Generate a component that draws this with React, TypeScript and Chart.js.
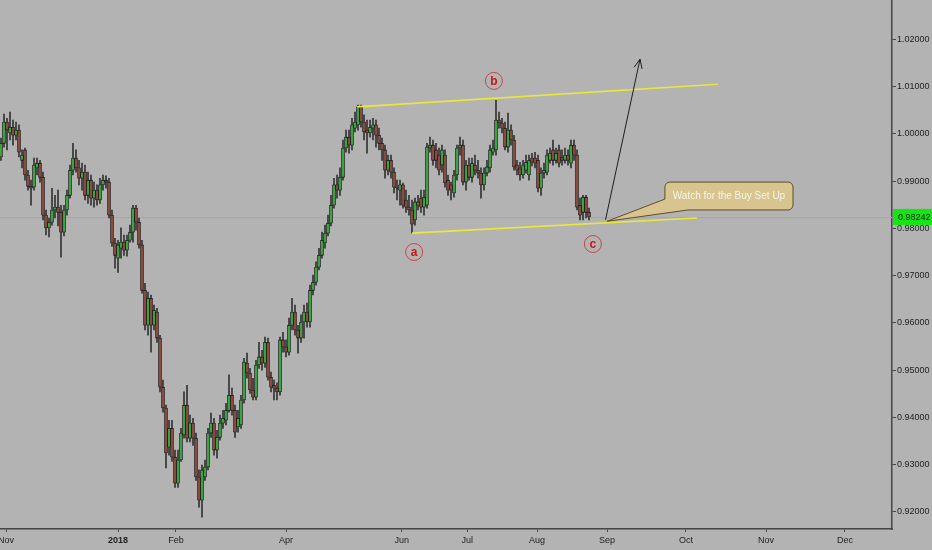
import React, { useEffect, useRef } from 'react';
import { Chart, registerables } from 'chart.js';

Chart.register(...registerables);

// ---- OHLC data (daily bars, EUR/CHF-like) ----
const opens = [
  0.9951, 0.9980, 1.0025, 1.0002, 1.0014, 0.9997, 1.0008, 0.9944, 0.9966, 0.9913,
  0.9889, 0.9887, 0.9928, 0.9938, 0.9908, 0.9828, 0.9801, 0.9813, 0.9839, 0.9845,
  0.9834, 0.9792, 0.9839, 0.9870, 0.9923, 0.9949, 0.9928, 0.9906, 0.9919, 0.9870,
  0.9902, 0.9864, 0.9881, 0.9860, 0.9892, 0.9902, 0.9898, 0.9828, 0.9769, 0.9737,
  0.9758, 0.9771, 0.9754, 0.9775, 0.9792, 0.9843, 0.9813, 0.9765, 0.9669, 0.9595,
  0.9652, 0.9595, 0.9623, 0.9568, 0.9464, 0.9420, 0.9337, 0.9377, 0.9316, 0.9261,
  0.9310, 0.9363, 0.9426, 0.9356, 0.9388, 0.9356, 0.9274, 0.9225, 0.9274, 0.9295,
  0.9367, 0.9388, 0.9331, 0.9358, 0.9388, 0.9394, 0.9415, 0.9447, 0.9415, 0.9380,
  0.9384, 0.9437, 0.9515, 0.9494, 0.9458, 0.9443, 0.9511, 0.9528, 0.9515, 0.9559,
  0.9485, 0.9468, 0.9462, 0.9454, 0.9564, 0.9549, 0.9538, 0.9595, 0.9623, 0.9585,
  0.9568, 0.9602, 0.9623, 0.9602, 0.9669, 0.9686, 0.9718, 0.9743, 0.9769, 0.9790,
  0.9811, 0.9849, 0.9892, 0.9881, 0.9908, 0.9970, 0.9993, 0.9976, 1.0012, 1.0019,
  1.0057, 1.0025, 1.0008, 1.0002, 1.0012, 1.0019, 0.9997, 0.9980, 0.9966, 0.9923,
  0.9944, 0.9919, 0.9887, 0.9881, 0.9892, 0.9860, 0.9845, 0.9839, 0.9818, 0.9849,
  0.9864, 0.9845, 0.9849, 0.9970, 0.9976, 0.9966, 0.9955, 0.9934, 0.9955, 0.9902,
  0.9892, 0.9875, 0.9913, 0.9970, 0.9976, 0.9898, 0.9934, 0.9908, 0.9934, 0.9923,
  0.9917, 0.9892, 0.9917, 0.9928, 0.9961, 0.9966, 1.0029, 1.0023, 1.0012, 0.9972,
  1.0008, 0.9987, 0.9934, 0.9928, 0.9913, 0.9923, 0.9913, 0.9949, 0.9949, 0.9944,
  0.9885, 0.9917, 0.9919, 0.9944, 0.9966, 0.9944, 0.9966, 0.9951, 0.9944, 0.9955,
  0.9938, 0.9976, 0.9955, 0.9849, 0.9834, 0.9866, 0.9834,
];
const highs = [
  0.9991, 1.0042, 1.0033, 1.0046, 1.0029, 1.0025, 1.0019, 0.9966, 0.9970, 0.9923,
  0.9902, 0.9949, 0.9949, 0.9944, 0.9919, 0.9839, 0.9822, 0.9885, 0.9870, 0.9881,
  0.9849, 0.9849, 0.9881, 0.9934, 0.9980, 0.9966, 0.9944, 0.9938, 0.9934, 0.9919,
  0.9913, 0.9898, 0.9892, 0.9906, 0.9913, 0.9911, 0.9906, 0.9839, 0.9779, 0.9775,
  0.9801, 0.9786, 0.9786, 0.9807, 0.9849, 0.9849, 0.9822, 0.9775, 0.9684, 0.9665,
  0.9659, 0.9638, 0.9631, 0.9574, 0.9479, 0.9426, 0.9394, 0.9394, 0.9331, 0.9331,
  0.9377, 0.9454, 0.9468, 0.9405, 0.9398, 0.9367, 0.9289, 0.9299, 0.9310, 0.9377,
  0.9409, 0.9398, 0.9373, 0.9405, 0.9415, 0.9430, 0.9490, 0.9462, 0.9426, 0.9415,
  0.9447, 0.9525, 0.9536, 0.9504, 0.9483, 0.9521, 0.9559, 0.9542, 0.9570, 0.9568,
  0.9496, 0.9479, 0.9473, 0.9570, 0.9580, 0.9564, 0.9610, 0.9652, 0.9638, 0.9595,
  0.9617, 0.9638, 0.9642, 0.9680, 0.9701, 0.9729, 0.9758, 0.9792, 0.9807, 0.9828,
  0.9870, 0.9906, 0.9913, 0.9928, 0.9987, 1.0008, 1.0008, 1.0033, 1.0046, 1.0061,
  1.0061, 1.0040, 1.0029, 1.0029, 1.0033, 1.0029, 1.0012, 0.9991, 0.9976, 0.9955,
  0.9955, 0.9928, 0.9902, 0.9902, 0.9896, 0.9881, 0.9870, 0.9860, 0.9864, 0.9870,
  0.9881, 0.9881, 0.9980, 0.9993, 0.9987, 0.9980, 0.9970, 0.9976, 0.9966, 0.9913,
  0.9898, 0.9923, 0.9976, 0.9993, 0.9987, 0.9944, 0.9949, 0.9949, 0.9955, 0.9944,
  0.9928, 0.9928, 0.9944, 0.9976, 0.9987, 1.0071, 1.0046, 1.0033, 1.0025, 1.0044,
  1.0019, 0.9997, 0.9944, 0.9940, 0.9944, 0.9955, 0.9955, 0.9959, 0.9961, 0.9955,
  0.9928, 0.9938, 0.9966, 0.9970, 0.9987, 0.9970, 0.9976, 0.9966, 0.9970, 0.9966,
  0.9987, 0.9987, 0.9966, 0.9864, 0.9870, 0.9870, 0.9843,
];
const lows = [
  0.9944, 0.9972, 0.9966, 0.9987, 0.9976, 0.9987, 0.9951, 0.9928, 0.9902, 0.9881,
  0.9849, 0.9881, 0.9913, 0.9898, 0.9818, 0.9786, 0.9782, 0.9807, 0.9822, 0.9805,
  0.9739, 0.9784, 0.9828, 0.9864, 0.9913, 0.9919, 0.9892, 0.9881, 0.9860, 0.9853,
  0.9849, 0.9845, 0.9849, 0.9853, 0.9881, 0.9885, 0.9822, 0.9762, 0.9716, 0.9707,
  0.9737, 0.9743, 0.9741, 0.9771, 0.9771, 0.9796, 0.9758, 0.9663, 0.9585, 0.9574,
  0.9538, 0.9585, 0.9559, 0.9454, 0.9411, 0.9293, 0.9320, 0.9307, 0.9252, 0.9252,
  0.9307, 0.9356, 0.9348, 0.9348, 0.9341, 0.9267, 0.9210, 0.9189, 0.9267, 0.9289,
  0.9358, 0.9320, 0.9314, 0.9352, 0.9377, 0.9384, 0.9411, 0.9405, 0.9358, 0.9369,
  0.9377, 0.9430, 0.9483, 0.9451, 0.9437, 0.9437, 0.9504, 0.9500, 0.9506, 0.9479,
  0.9454, 0.9437, 0.9437, 0.9447, 0.9538, 0.9528, 0.9532, 0.9585, 0.9574, 0.9536,
  0.9559, 0.9568, 0.9591, 0.9591, 0.9659, 0.9680, 0.9712, 0.9737, 0.9758, 0.9784,
  0.9805, 0.9843, 0.9864, 0.9870, 0.9902, 0.9961, 0.9959, 0.9966, 1.0004, 1.0008,
  1.0014, 0.9987, 0.9959, 0.9993, 0.9987, 0.9972, 0.9966, 0.9944, 0.9906, 0.9913,
  0.9906, 0.9875, 0.9860, 0.9849, 0.9843, 0.9834, 0.9828, 0.9790, 0.9807, 0.9839,
  0.9834, 0.9828, 0.9843, 0.9961, 0.9934, 0.9928, 0.9913, 0.9919, 0.9887, 0.9870,
  0.9860, 0.9866, 0.9902, 0.9955, 0.9892, 0.9881, 0.9902, 0.9898, 0.9913, 0.9906,
  0.9864, 0.9881, 0.9911, 0.9919, 0.9955, 0.9955, 1.0012, 1.0002, 0.9966, 0.9961,
  0.9976, 0.9923, 0.9913, 0.9902, 0.9906, 0.9917, 0.9902, 0.9932, 0.9928, 0.9877,
  0.9870, 0.9906, 0.9913, 0.9938, 0.9934, 0.9938, 0.9930, 0.9934, 0.9938, 0.9934,
  0.9928, 0.9944, 0.9839, 0.9818, 0.9818, 0.9822, 0.9818,
];
const closes = [
  0.9980, 1.0025, 1.0008, 1.0014, 0.9997, 1.0008, 0.9961, 0.9955, 0.9913, 0.9889,
  0.9885, 0.9934, 0.9938, 0.9908, 0.9828, 0.9801, 0.9813, 0.9839, 0.9845, 0.9834,
  0.9792, 0.9839, 0.9870, 0.9923, 0.9949, 0.9928, 0.9906, 0.9919, 0.9870, 0.9902,
  0.9864, 0.9881, 0.9860, 0.9892, 0.9902, 0.9898, 0.9828, 0.9769, 0.9743, 0.9765,
  0.9771, 0.9754, 0.9775, 0.9792, 0.9843, 0.9813, 0.9765, 0.9669, 0.9595, 0.9652,
  0.9595, 0.9627, 0.9568, 0.9464, 0.9420, 0.9325, 0.9377, 0.9316, 0.9261, 0.9310,
  0.9367, 0.9426, 0.9356, 0.9388, 0.9356, 0.9274, 0.9225, 0.9289, 0.9295, 0.9367,
  0.9388, 0.9331, 0.9358, 0.9388, 0.9398, 0.9415, 0.9447, 0.9415, 0.9369, 0.9398,
  0.9437, 0.9517, 0.9494, 0.9458, 0.9443, 0.9511, 0.9528, 0.9515, 0.9559, 0.9485,
  0.9464, 0.9462, 0.9454, 0.9564, 0.9549, 0.9538, 0.9595, 0.9623, 0.9585, 0.9568,
  0.9602, 0.9623, 0.9602, 0.9669, 0.9686, 0.9718, 0.9743, 0.9775, 0.9790, 0.9811,
  0.9849, 0.9892, 0.9881, 0.9908, 0.9970, 0.9993, 0.9976, 1.0019, 1.0025, 1.0057,
  1.0025, 1.0004, 1.0002, 1.0014, 1.0019, 0.9997, 0.9980, 0.9966, 0.9923, 0.9944,
  0.9919, 0.9887, 0.9885, 0.9892, 0.9849, 0.9845, 0.9839, 0.9809, 0.9856, 0.9856,
  0.9845, 0.9866, 0.9972, 0.9976, 0.9944, 0.9944, 0.9923, 0.9966, 0.9896, 0.9881,
  0.9881, 0.9913, 0.9970, 0.9976, 0.9898, 0.9934, 0.9908, 0.9938, 0.9923, 0.9917,
  0.9892, 0.9917, 0.9930, 0.9966, 0.9970, 1.0029, 1.0023, 1.0012, 0.9972, 1.0008,
  0.9987, 0.9930, 0.9923, 0.9913, 0.9934, 0.9940, 0.9944, 0.9940, 0.9938, 0.9885,
  0.9917, 0.9923, 0.9955, 0.9959, 0.9944, 0.9959, 0.9938, 0.9944, 0.9955, 0.9944,
  0.9976, 0.9955, 0.9845, 0.9828, 0.9866, 0.9834, 0.98242,
];

// ---- axis ticks ----
const monthTickIndex = [1.7, 39, 58.3, 95, 133.6, 155.4, 178.7, 202, 228.3, 255, 281.3];
const monthLabels = ['Nov', '2018', 'Feb', 'Apr', 'Jun', 'Jul', 'Aug', 'Sep', 'Oct', 'Nov', 'Dec'];
const priceTicks = [0.92, 0.93, 0.94, 0.95, 0.96, 0.97, 0.98, 0.99, 1.0, 1.01, 1.02];
const lastPrice = 0.98242;

// ---- drawings (bar index, price) ----
const upperChannel = [[118.7, 1.0057], [239, 1.0105]];
const lowerChannel = [[137, 0.979], [232, 0.9822]];
const arrowLine = [[201.5, 0.9818], [213, 1.0158]];
const waveLetters = ['a', 'b', 'c'];
const waveIndex = [137.7, 164.3, 197.3];
const wavePrice = [0.975, 1.0112, 0.9767];
const calloutText = 'Watch for the Buy Set Up';
const calloutBox = [221.3, 264.0, 0.9898, 0.9839]; // left, right, top, bottom
const calloutPointer = [[202, 0.9815], [0.9862], [229.0]]; // tip, left-edge base price, bottom-edge base index

const BG = '#b3b3b3';
const GREEN = '#3aa53c';
const RED = '#8c4a3d';
const FONT = '"Liberation Sans", Arial, sans-serif';

const overlayPlugin = {
  id: 'overlay',
  beforeDatasetsDraw(chart: any) {
    const { ctx, chartArea, scales } = chart;
    const yp = Math.round(scales.y.getPixelForValue(lastPrice)) + 0.5;
    ctx.save();
    ctx.strokeStyle = 'rgba(105, 210, 105, 0.95)';
    ctx.lineWidth = 1;
    ctx.beginPath();
    ctx.moveTo(chartArea.left, yp);
    ctx.lineTo(chartArea.right, yp);
    ctx.stroke();
    ctx.restore();
  },
  afterDatasetsDraw(chart: any) {
    const { ctx, scales } = chart;
    const X = (v: number) => scales.x.getPixelForValue(v);
    const Y = (v: number) => scales.y.getPixelForValue(v);
    ctx.save();

    // channel lines
    ctx.strokeStyle = '#e8e83c';
    ctx.lineWidth = 1.6;
    for (const seg of [upperChannel, lowerChannel]) {
      ctx.beginPath();
      ctx.moveTo(X(seg[0][0]), Y(seg[0][1]));
      ctx.lineTo(X(seg[1][0]), Y(seg[1][1]));
      ctx.stroke();
    }

    // arrow
    const ax0 = X(arrowLine[0][0]), ay0 = Y(arrowLine[0][1]);
    const ax1 = X(arrowLine[1][0]), ay1 = Y(arrowLine[1][1]);
    ctx.strokeStyle = '#1e1e1e';
    ctx.lineWidth = 1;
    ctx.beginPath();
    ctx.moveTo(ax0, ay0);
    ctx.lineTo(ax1, ay1);
    const ang = Math.atan2(ay0 - ay1, ax0 - ax1);
    const hl = 10;
    ctx.moveTo(ax1 + hl * Math.cos(ang + 0.42), ay1 + hl * Math.sin(ang + 0.42));
    ctx.lineTo(ax1, ay1);
    ctx.lineTo(ax1 + hl * Math.cos(ang - 0.42), ay1 + hl * Math.sin(ang - 0.42));
    ctx.stroke();

    // callout
    const L = X(calloutBox[0]), R = X(calloutBox[1]);
    const T = Y(calloutBox[2]), B = Y(calloutBox[3]);
    const tipX = X(calloutPointer[0][0]), tipY = Y(calloutPointer[0][1]);
    const b1y = Y(calloutPointer[1][0]);
    const b2x = X(calloutPointer[2][0]);
    const r = 5;
    ctx.beginPath();
    ctx.moveTo(L + r, T);
    ctx.lineTo(R - r, T);
    ctx.arcTo(R, T, R, T + r, r);
    ctx.lineTo(R, B - r);
    ctx.arcTo(R, B, R - r, B, r);
    ctx.lineTo(b2x, B);
    ctx.lineTo(tipX, tipY);
    ctx.lineTo(L, b1y);
    ctx.lineTo(L, T + r);
    ctx.arcTo(L, T, L + r, T, r);
    ctx.closePath();
    ctx.fillStyle = '#d7c48e';
    ctx.fill();
    ctx.strokeStyle = '#5e4d28';
    ctx.lineWidth = 1;
    ctx.stroke();
    ctx.fillStyle = '#f8f4e6';
    ctx.font = `10px ${FONT}`;
    ctx.textAlign = 'center';
    ctx.textBaseline = 'middle';
    ctx.fillText(calloutText, (L + R) / 2, (T + B) / 2 + 0.5);

    // wave labels
    for (let i = 0; i < waveLetters.length; i++) {
      const cx = X(waveIndex[i]), cy = Y(wavePrice[i]);
      ctx.beginPath();
      ctx.arc(cx, cy, 8.5, 0, Math.PI * 2);
      ctx.strokeStyle = '#c64848';
      ctx.lineWidth = 1;
      ctx.stroke();
      ctx.fillStyle = '#c41818';
      ctx.font = `bold 12px ${FONT}`;
      ctx.textAlign = 'center';
      ctx.textBaseline = 'middle';
      ctx.fillText(waveLetters[i], cx, cy + 0.5);
    }
    ctx.restore();
  },
  afterDraw(chart: any) {
    const { ctx, chartArea, scales, width } = chart;
    const yp = scales.y.getPixelForValue(lastPrice);
    ctx.save();
    ctx.fillStyle = '#14e614';
    ctx.fillRect(chartArea.right + 1, yp - 8, width - chartArea.right - 1, 16);
    ctx.fillStyle = '#111';
    ctx.font = `9px ${FONT}`;
    ctx.textAlign = 'left';
    ctx.textBaseline = 'middle';
    ctx.fillText(lastPrice.toFixed(5), chartArea.right + 6, yp + 0.5);
    ctx.restore();
  },
};

export default function App() {
  const ref = useRef<HTMLCanvasElement | null>(null);

  useEffect(() => {
    if (!ref.current) return;
    const wickData = highs.map((h, i) => ({ x: i, y: [lows[i], h] }));
    const bodyData = opens.map((o, i) => ({ x: i, y: [o, closes[i]] }));
    const bodyColors = opens.map((o, i) => (closes[i] >= o ? GREEN : RED));

    const chart = new Chart(ref.current, {
      type: 'bar',
      data: {
        datasets: [
          {
            data: wickData as any,
            backgroundColor: '#333333',
            barThickness: 1,
            grouped: false,
            order: 2,
          } as any,
          {
            data: bodyData as any,
            backgroundColor: bodyColors,
            borderColor: '#141414',
            borderWidth: 0.8,
            borderSkipped: false,
            barThickness: 3,
            minBarLength: 1,
            grouped: false,
            order: 1,
          } as any,
        ],
      },
      options: {
        animation: false,
        responsive: false,
        maintainAspectRatio: false,
        events: [],
        layout: { padding: 0 },
        plugins: { legend: { display: false }, tooltip: { enabled: false } },
        scales: {
          x: {
            type: 'linear',
            position: 'bottom',
            min: -1 / 3,
            max: 297,
            offset: false,
            grid: {
              display: true,
              offset: false,
              drawOnChartArea: false,
              drawTicks: true,
              tickLength: 3,
              color: '#454545',
            },
            border: { display: true, color: '#454545', width: 1.5 },
            afterBuildTicks: (s: any) => {
              s.ticks = monthTickIndex.map((v) => ({ value: v }));
            },
            ticks: {
              autoSkip: false,
              maxRotation: 0,
              minRotation: 0,
              padding: 3,
              color: '#1e1e1e',
              font: (c: any) => ({ family: FONT, size: 9, weight: c.index === 1 ? 'bold' : 'normal' }),
              callback: (_v: any, idx: number) => monthLabels[idx],
            },
            afterFit: (s: any) => {
              s.height = 21;
              s.paddingLeft = 0;
              s.paddingRight = 0;
            },
          } as any,
          y: {
            type: 'linear',
            position: 'right',
            min: 0.9164,
            max: 1.02832,
            grid: {
              display: true,
              offset: false,
              drawOnChartArea: false,
              drawTicks: true,
              tickLength: 4,
              color: '#454545',
            },
            border: { display: true, color: '#454545', width: 1.5 },
            afterBuildTicks: (s: any) => {
              s.ticks = priceTicks.map((v) => ({ value: v }));
            },
            ticks: {
              padding: 1,
              color: '#1e1e1e',
              font: { family: FONT, size: 9 },
              callback: (v: any) => Number(v).toFixed(5),
            },
            afterFit: (s: any) => {
              s.width = 40;
              s.paddingTop = 0;
              s.paddingBottom = 0;
            },
          } as any,
        },
      },
      plugins: [overlayPlugin],
    });
    return () => chart.destroy();
  }, []);

  return (
    <div style={{ position: 'fixed', left: 0, top: 0, width: 932, height: 550, background: BG }}>
      <canvas ref={ref} width={932} height={550} style={{ width: 932, height: 550, display: 'block' }} />
    </div>
  );
}
